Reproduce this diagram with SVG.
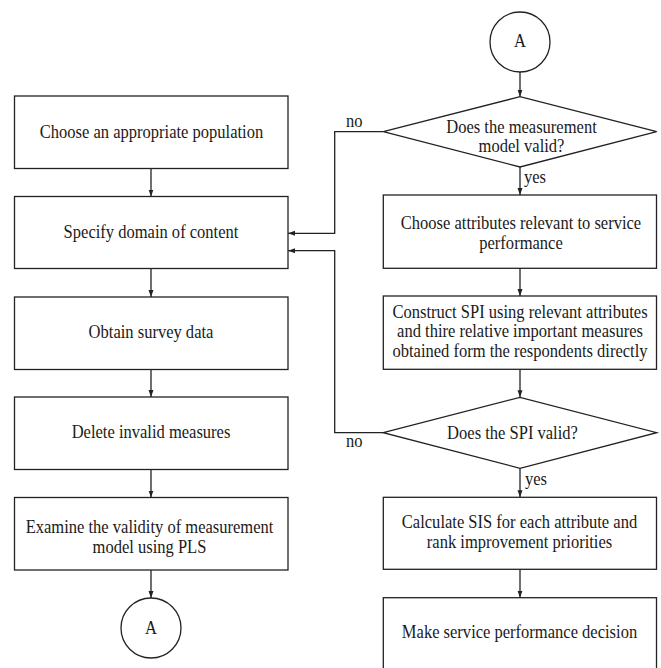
<svg xmlns="http://www.w3.org/2000/svg" width="661" height="668" viewBox="0 0 661 668">
<style>
.box{fill:#fff;stroke:#222;stroke-width:1.3}
.ln{fill:none;stroke:#222;stroke-width:1.3}
.t{font-family:'Liberation Serif','Times New Roman',Times,'DejaVu Serif',serif;font-size:19px;fill:#1a1a1a;text-anchor:middle}
.lb{font-family:'Liberation Serif','Times New Roman',Times,'DejaVu Serif',serif;font-size:19px;fill:#1a1a1a}
</style>
<defs>
<marker id="ah" markerUnits="userSpaceOnUse" markerWidth="8" markerHeight="6" refX="7" refY="2.5" orient="auto">
<path d="M0,0 L7,2.5 L0,5 z" fill="#222"/>
</marker>
</defs>
<rect width="661" height="668" fill="#fff"/>
<g id="connectors">
<line class="ln" x1="151" y1="168.5" x2="151" y2="196.5" marker-end="url(#ah)"/>
<line class="ln" x1="151" y1="268.5" x2="151" y2="297" marker-end="url(#ah)"/>
<line class="ln" x1="151" y1="369.5" x2="151" y2="397" marker-end="url(#ah)"/>
<line class="ln" x1="151" y1="469.5" x2="151" y2="497.5" marker-end="url(#ah)"/>
<line class="ln" x1="151" y1="570" x2="151" y2="598" marker-end="url(#ah)"/>
<line class="ln" x1="520" y1="72" x2="520" y2="96.7" marker-end="url(#ah)"/>
<line class="ln" x1="520" y1="167" x2="520" y2="195" marker-end="url(#ah)"/>
<line class="ln" x1="520" y1="268.3" x2="520" y2="296" marker-end="url(#ah)"/>
<line class="ln" x1="520" y1="369.3" x2="520" y2="397.3" marker-end="url(#ah)"/>
<line class="ln" x1="520" y1="468.3" x2="520" y2="497.3" marker-end="url(#ah)"/>
<line class="ln" x1="520" y1="569.3" x2="520" y2="597.7" marker-end="url(#ah)"/>
<polyline class="ln" points="383.3,131.7 334.7,131.7 334.7,233.3 288,233.3" marker-end="url(#ah)"/>
<polyline class="ln" points="383.3,432.7 334.7,432.7 334.7,250.7 288,250.7" marker-end="url(#ah)"/>
<text class="lb" transform="translate(346 127.3) scale(0.87 1)">no</text>
<text class="lb" transform="translate(346 446.7) scale(0.87 1)">no</text>
<text class="lb" transform="translate(524 182.7) scale(0.87 1)">yes</text>
<text class="lb" transform="translate(525 485) scale(0.87 1)">yes</text>
</g>
<g id="n1">
<rect class="box" x="14.5" y="96" width="273.5" height="72.5"/>
<text class="t" transform="translate(151.5 138.3) scale(0.87 1)">Choose an appropriate population</text>
</g>
<g id="n2">
<rect class="box" x="14.5" y="196.5" width="273.5" height="72"/>
<text class="t" transform="translate(151 238.3) scale(0.87 1)">Specify domain of content</text>
</g>
<g id="n3">
<rect class="box" x="14.5" y="297" width="273.5" height="72.5"/>
<text class="t" transform="translate(151 337.7) scale(0.87 1)">Obtain survey data</text>
</g>
<g id="n4">
<rect class="box" x="14.5" y="397" width="273.5" height="72.5"/>
<text class="t" transform="translate(151 437.7) scale(0.87 1)">Delete invalid measures</text>
</g>
<g id="n5">
<rect class="box" x="14.5" y="497.5" width="273.5" height="72.5"/>
<text class="t" transform="translate(149.5 532.7) scale(0.87 1)"><tspan x="0" y="0">Examine the validity of measurement</tspan><tspan x="0" y="20">model using PLS</tspan></text>
</g>
<g id="a1">
<circle class="box" cx="151" cy="628" r="30"/>
<text class="t" transform="translate(151 633.5) scale(0.87 1)">A</text>
</g>
<g id="a2">
<circle class="box" cx="520" cy="42" r="30"/>
<text class="t" transform="translate(520 47) scale(0.87 1)">A</text>
</g>
<g id="d1">
<polygon class="box" points="383.3,131.7 520,96.7 656.7,131.7 520,167"/>
<text class="t" transform="translate(521.5 133) scale(0.87 1)"><tspan x="0" y="0">Does the measurement</tspan><tspan x="0" y="19.5">model valid?</tspan></text>
</g>
<g id="r1">
<rect class="box" x="383.3" y="195" width="273.2" height="73.3"/>
<text class="t" transform="translate(521 229) scale(0.87 1)"><tspan x="0" y="0">Choose attributes relevant to service</tspan><tspan x="0" y="19.8">performance</tspan></text>
</g>
<g id="r2">
<rect class="box" x="383.3" y="296" width="273.2" height="73.3"/>
<text class="t" transform="translate(520 318) scale(0.87 1)"><tspan x="0" y="0">Construct SPI using relevant attributes</tspan><tspan x="0" y="19.5">and thire relative important measures</tspan><tspan x="0" y="39">obtained form the respondents directly</tspan></text>
</g>
<g id="d2">
<polygon class="box" points="383.3,432.7 520,397.3 656.7,432.7 520,468.3"/>
<text class="t" transform="translate(512.5 439.3) scale(0.87 1)">Does the SPI valid?</text>
</g>
<g id="r3">
<rect class="box" x="383.3" y="497.3" width="273.2" height="72"/>
<text class="t" transform="translate(519.5 528) scale(0.87 1)"><tspan x="0" y="0">Calculate SIS for each attribute and</tspan><tspan x="0" y="19.8">rank improvement priorities</tspan></text>
</g>
<g id="r4">
<rect class="box" x="383.3" y="597.7" width="273.2" height="72.5"/>
<text class="t" transform="translate(519.5 638.3) scale(0.87 1)">Make service performance decision</text>
</g>
</svg>
